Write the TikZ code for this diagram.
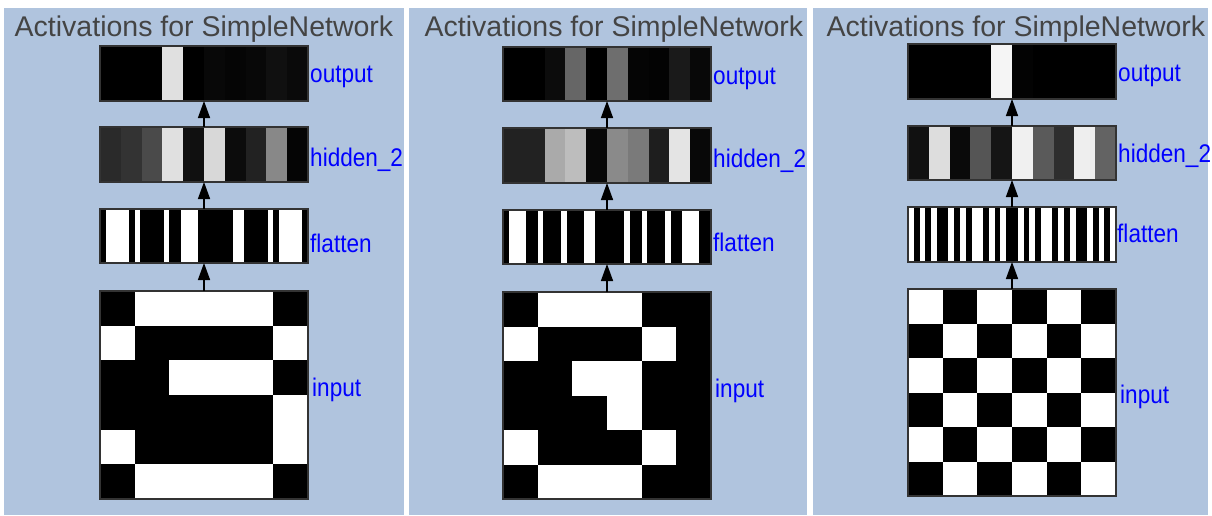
\documentclass[tikz,border=0pt]{standalone}
\usepackage{fontspec}
\setmainfont{Liberation Sans}
\usetikzlibrary{arrows.meta}
\definecolor{panelbg}{RGB}{176,196,222}
\definecolor{titlegray}{RGB}{68,68,68}
\definecolor{labelblue}{RGB}{0,0,255}
\definecolor{boxborder}{RGB}{51,51,51}
% gray cells: x0, ytop, total width, height, list of 10 gray levels (0-255)
\newcommand{\graycells}[5]{%
  \foreach \g [count=\k from 0] in {#5} {
    \fill[fill={rgb,255:red,\g;green,\g;blue,\g}] ({#1+\k*#3/10},#2) rectangle ++(#3/10,#4);
  }}
% binary cells: x0, ytop, cell w, cell h, ncols, list macro
\newcommand{\bincells}[6]{%
  \foreach \v [count=\k from 0] in #6 {
    \pgfmathtruncatemacro{\cc}{mod(\k,#5)}
    \pgfmathtruncatemacro{\rr}{int(\k/#5)}
    \ifnum\v=1 \fill[white] ({#1+\cc*#3},{#2+\rr*#4}) rectangle ++(#3,#4);\fi
  }}
\newcommand{\lbl}[1]{\scalebox{0.885}[1]{#1}}
\def\inputA{0,1,1,1,1,0, 1,0,0,0,0,1, 0,0,1,1,1,0, 0,0,0,0,0,1, 1,0,0,0,0,1, 0,1,1,1,1,0}
\def\inputB{0,1,1,1,0,0, 1,0,0,0,1,0, 0,0,1,1,0,0, 0,0,0,1,0,0, 1,0,0,0,1,0, 0,1,1,1,0,0}
\def\inputC{1,0,1,0,1,0, 0,1,0,1,0,1, 1,0,1,0,1,0, 0,1,0,1,0,1, 1,0,1,0,1,0, 0,1,0,1,0,1}
\tikzset{
  actbox/.style={draw=boxborder, line width=1.5pt, inner sep=0pt, outer sep=0pt,
    anchor=north west, minimum width=208pt},
  rowbox/.style={actbox, minimum height=55pt},
  gridbox/.style={actbox, minimum height=208pt},
  conn/.style={-{Triangle[length=17pt,width=12pt]}, line width=1.5pt, black},
  paneltitle/.style={anchor=base, inner sep=0pt, text=titlegray, font=\fontsize{28.5}{30}\selectfont},
  layerlabel/.style={anchor=base west, inner sep=0pt, text=labelblue, font=\fontsize{25.5}{28}\selectfont}
}
\begin{document}
\begin{tikzpicture}[x=1pt,y=-1pt]
\useasboundingbox (0,0) rectangle (1212,515);
\fill[white] (0,0) rectangle (1212,515);
\fill[panelbg] (4,8) rectangle (404,515);
\fill[panelbg] (409,8) rectangle (807,515);
\fill[panelbg] (813,8) rectangle (1208,515);

% ---------- Panel 1 ----------
\node[paneltitle] (t1) at (204,36.5) {Activations for SimpleNetwork};
\graycells{100}{46}{208}{55}{0,0,0,224,0,8,5,8,16,10}
\graycells{100}{127}{208}{55}{42,51,74,224,16,216,12,34,136,5}
\fill[black] (100,209) rectangle ++(208,54);
\bincells{100}{209}{208/36}{54}{36}{\inputA}
\fill[black] (100,291) rectangle ++(208,208);
\bincells{100}{291}{208/6}{208/6}{6}{\inputA}
\node[rowbox] (p1out) at (100,46) {};
\node[rowbox] (p1hid) at (100,127) {};
\node[rowbox, minimum height=54pt] (p1flat) at (100,209) {};
\node[gridbox] (p1in) at (100,291) {};
\draw[conn] (p1in.north) -- (p1flat.south);
\draw[conn] (p1flat.north) -- (p1hid.south);
\draw[conn] (p1hid.north) -- (p1out.south);
\node[layerlabel] (l1out) at (310,82) {\lbl{output}};
\node[layerlabel] (l1hid) at (310,166) {\lbl{hidden\_2}};
\node[layerlabel] (l1flat) at (310,252) {\lbl{flatten}};
\node[layerlabel] (l1in) at (312,396) {\lbl{input}};

% ---------- Panel 2 ----------
\node[paneltitle] (t2) at (614,36.5) {Activations for SimpleNetwork};
\graycells{503}{47}{208}{54}{0,0,12,102,0,110,5,3,26,8}
\graycells{503}{128}{208}{55}{34,34,170,189,8,138,122,30,228,8}
\fill[black] (503,210) rectangle ++(208,54);
\bincells{503}{210}{208/36}{54}{36}{\inputB}
\fill[black] (503,292) rectangle ++(208,207);
\bincells{503}{292}{208/6}{207/6}{6}{\inputB}
\node[rowbox, minimum height=54pt] (p2out) at (503,47) {};
\node[rowbox] (p2hid) at (503,128) {};
\node[rowbox, minimum height=54pt] (p2flat) at (503,210) {};
\node[gridbox, minimum height=207pt] (p2in) at (503,292) {};
\draw[conn] (p2in.north) -- (p2flat.south);
\draw[conn] (p2flat.north) -- (p2hid.south);
\draw[conn] (p2hid.north) -- (p2out.south);
\node[layerlabel] (l2out) at (713,84) {\lbl{output}};
\node[layerlabel] (l2hid) at (713,167) {\lbl{hidden\_2}};
\node[layerlabel] (l2flat) at (713,251) {\lbl{flatten}};
\node[layerlabel] (l2in) at (715,397) {\lbl{input}};

% ---------- Panel 3 ----------
\node[paneltitle] (t3) at (1016,36.5) {Activations for SimpleNetwork};
\graycells{908}{44}{208}{55}{0,0,0,0,245,3,0,0,0,0}
\graycells{908}{126}{208}{54}{17,221,10,85,21,240,90,46,238,99}
\fill[black] (908,207) rectangle ++(208,55);
\bincells{908}{207}{208/36}{55}{36}{\inputC}
\fill[black] (908,289) rectangle ++(208,207);
\bincells{908}{289}{208/6}{207/6}{6}{\inputC}
\node[rowbox] (p3out) at (908,44) {};
\node[rowbox, minimum height=54pt] (p3hid) at (908,126) {};
\node[rowbox] (p3flat) at (908,207) {};
\node[gridbox, minimum height=207pt] (p3in) at (908,289) {};
\draw[conn] (p3in.north) -- (p3flat.south);
\draw[conn] (p3flat.north) -- (p3hid.south);
\draw[conn] (p3hid.north) -- (p3out.south);
\node[layerlabel] (l3out) at (1118,81) {\lbl{output}};
\node[layerlabel] (l3hid) at (1118,162) {\lbl{hidden\_2}};
\node[layerlabel] (l3flat) at (1117,242) {\lbl{flatten}};
\node[layerlabel] (l3in) at (1120,403) {\lbl{input}};
\end{tikzpicture}
\end{document}
